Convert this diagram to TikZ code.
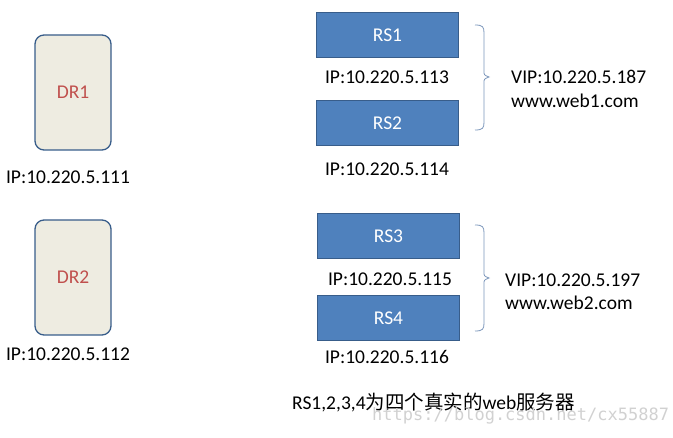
\documentclass[tikz,border=0pt]{standalone}
\usepackage{fontspec}
\setmainfont{Carlito}
\newfontfamily\cjk{Noto Sans CJK SC}
\newfontfamily\wm{DejaVu Sans Mono}
\begin{document}
\begin{tikzpicture}[x=1pt,y=-1pt,
  every node/.style={font=\fontsize{19.5}{22}\selectfont},
  rsbox/.style={draw=rsline,fill=rsfill,line width=1pt,text=white,minimum width=142pt,minimum height=45pt,inner sep=0pt},
  drbox/.style={draw=rsline,fill=drfill,line width=1.3pt,rounded corners=9pt,text=drtext,minimum width=76pt,minimum height=115pt,inner sep=0pt},
  lbl/.style={text=black,inner sep=0pt},
  brc/.style={draw=brline,line width=0.8pt}]
\definecolor{rsfill}{HTML}{4F81BD}
\definecolor{rsline}{HTML}{385D8A}
\definecolor{drfill}{HTML}{EEECE1}
\definecolor{drtext}{HTML}{C0504D}
\definecolor{brline}{HTML}{7A95BA}
\useasboundingbox (0,0) rectangle (673,438);
\node[drbox] (dr1) at (73,92.5) {DR1};
\node[drbox] (dr2) at (73,277.5) {DR2};
\node[lbl] (ip111) at (68,177) {IP:10.220.5.111};
\node[lbl] (ip112) at (68,354) {IP:10.220.5.112};
\node[rsbox] (rs1) at (387.5,35.5) {RS1};
\node[rsbox] (rs2) at (387.5,123.5) {RS2};
\node[rsbox] (rs3) at (388.5,236) {RS3};
\node[rsbox] (rs4) at (388.5,318.5) {RS4};
\node[lbl] (ip113) at (387,77) {IP:10.220.5.113};
\node[lbl] (ip114) at (387,169) {IP:10.220.5.114};
\node[lbl] (ip115) at (390,279) {IP:10.220.5.115};
\node[lbl] (ip116) at (387,357) {IP:10.220.5.116};
\coordinate (b1t) at (475,25);
\coordinate (b1b) at (475,130);
\coordinate (b2t) at (475,225);
\coordinate (b2b) at (475,331);
\draw[brc] (b1t) .. controls (483,25) and (484,27) .. (484,33) -- (484,71) .. controls (484,75) .. (489,77)
  .. controls (484,79) .. (484,83) -- (484,122) .. controls (484,128) and (483,130) .. (b1b);
\draw[brc] (b2t) .. controls (483,225) and (484,227) .. (484,233) -- (484,272) .. controls (484,276) .. (489,278)
  .. controls (484,280) .. (484,284) -- (484,323) .. controls (484,329) and (483,331) .. (b2b);
\node[lbl,anchor=west] (vip1) at (511,77) {VIP:10.220.5.187};
\node[lbl,anchor=west] (web1) at (511,101) {www.web1.com};
\node[lbl,anchor=west] (vip2) at (505,280) {VIP:10.220.5.197};
\node[lbl,anchor=west] (web2) at (505,303) {www.web2.com};
\node[lbl,anchor=west] (note) at (292,402) {RS1,2,3,4{\cjk\fontsize{19.5}{22}\selectfont 为四个真实的}web{\cjk\fontsize{19.5}{22}\selectfont 服务器}};
\node[lbl,anchor=west,text=black!18,font=\wm\fontsize{17}{20}\selectfont] (wmk) at (372,416) {https://blog.csdn.net/cx55887};
\end{tikzpicture}
\end{document}
